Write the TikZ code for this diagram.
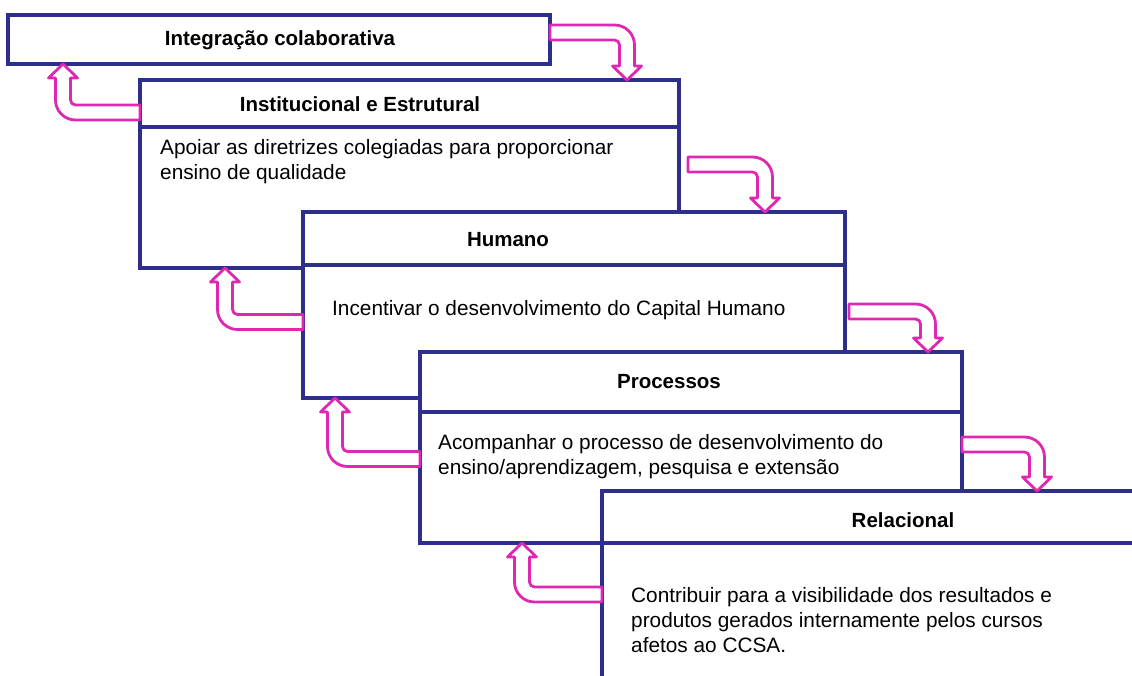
\documentclass[tikz,border=0pt]{standalone}
\usepackage{fontspec}
\setmainfont{Liberation Sans}
\usetikzlibrary{calc}

\definecolor{azulcx}{RGB}{46,46,140}
\definecolor{rosaseta}{RGB}{222,40,178}

\tikzset{
  caixa/.style={draw=azulcx,line width=3.2pt,fill=white,anchor=north west,inner sep=0pt,outer sep=0pt},
  titulo/.style={font=\fontsize{20.5}{25}\selectfont\bfseries,inner sep=0pt},
  texto/.style={font=\fontsize{20.8}{25}\selectfont,align=left,anchor=north west,inner sep=0pt},
  seta/.style={draw=rosaseta,line width=2.8pt,fill=white,line join=round}
}

\newcommand\setadir[2]{%
  \draw[seta] let \p1=(#1), \p2=(#2) in
    (\x1,\y1+7.5pt) -- (\x2-12.5pt,\y1+7.5pt)
    .. controls (\x2-1.45pt,\y1+7.5pt) and (\x2+7.5pt,\y1-1.45pt) .. (\x2+7.5pt,\y1-12.5pt)
    -- (\x2+7.5pt,\y2+14pt) -- (\x2+14.5pt,\y2+14pt) -- (\x2,\y2)
    -- (\x2-14.5pt,\y2+14pt) -- (\x2-7.5pt,\y2+14pt) -- (\x2-7.5pt,\y1-12.5pt)
    .. controls (\x2-7.5pt,\y1-9.74pt) and (\x2-9.74pt,\y1-7.5pt) .. (\x2-12.5pt,\y1-7.5pt)
    -- (\x1,\y1-7.5pt) -- cycle;}

\newcommand\setaesq[2]{%
  \draw[seta] let \p1=(#1), \p2=(#2) in
    (\x1,\y1-7.5pt) -- (\x2+12.5pt,\y1-7.5pt)
    .. controls (\x2+1.45pt,\y1-7.5pt) and (\x2-7.5pt,\y1+1.45pt) .. (\x2-7.5pt,\y1+12.5pt)
    -- (\x2-7.5pt,\y2-14pt) -- (\x2-14.5pt,\y2-14pt) -- (\x2,\y2)
    -- (\x2+14.5pt,\y2-14pt) -- (\x2+7.5pt,\y2-14pt) -- (\x2+7.5pt,\y1+12.5pt)
    .. controls (\x2+7.5pt,\y1+9.74pt) and (\x2+9.74pt,\y1+7.5pt) .. (\x2+12.5pt,\y1+7.5pt)
    -- (\x1,\y1+7.5pt) -- cycle;}

\begin{document}
\begin{tikzpicture}[x=1pt,y=-1pt]
  \useasboundingbox (0,0) rectangle (1132,675);
  \clip (0,0) rectangle (1132,675);

  \node[caixa,minimum width=542pt,minimum height=49pt] (integ) at (8,15) {};
	\node[titulo] (tinteg) at (280,40) {Integração colaborativa};

  \node[caixa,minimum width=539pt,minimum height=47pt] (instit) at (140,80) {};
  \node[caixa,minimum width=539pt,minimum height=141pt] (cinstit) at (instit.south west) {};
	\node[titulo] (tinstit) at (360,104) {Institucional e Estrutural};
	\node[texto] (xinstit) at (160,139) {Apoiar as diretrizes colegiadas para proporcionar\\ensino de qualidade};

  \node[caixa,minimum width=542pt,minimum height=53pt] (humano) at (303,212) {};
  \node[caixa,minimum width=542pt,minimum height=133pt] (chumano) at (humano.south west) {};
	\node[titulo] (thumano) at (508,240) {Humano};
	\node[texto] (xhumano) at (332,300) {Incentivar o desenvolvimento do Capital Humano};

  \node[caixa,minimum width=542pt,minimum height=60pt] (proc) at (420,352) {};
  \node[caixa,minimum width=542pt,minimum height=131pt] (cproc) at (proc.south west) {};
	\node[titulo] (tproc) at (669,382) {Processos};
	\node[texto] (xproc) at (438,434) {Acompanhar o processo de desenvolvimento do\\ensino/aprendizagem, pesquisa e extensão};

  \node[caixa,minimum width=560pt,minimum height=52pt] (rel) at (602,491) {};
  \node[caixa,minimum width=560pt,minimum height=200pt] (crel) at (rel.south west) {};
	\node[titulo] (trel) at (903,520) {Relacional};
	\node[texto] (xrel) at (631,587) {Contribuir para a visibilidade dos resultados e\\produtos gerados internamente pelos cursos\\afetos ao CCSA.};

  \coordinate (r1a) at (integ.east |- 0,32.5);
  \coordinate (r1b) at (627,0 |- instit.north);
  \coordinate (r2a) at ($(instit.east |- 0,164.5)+(9,0)$);
  \coordinate (r2b) at (765,0 |- humano.north);
  \coordinate (r3a) at ($(humano.east |- 0,311.5)+(4,0)$);
  \coordinate (r3b) at (928,0 |- proc.north);
  \coordinate (r4a) at (proc.east |- 0,444.5);
  \coordinate (r4b) at (1037,0 |- rel.north);
	\setadir{r1a}{r1b}
	\setadir{r2a}{r2b}
	\setadir{r3a}{r3b}
	\setadir{r4a}{r4b}

  \coordinate (l1a) at (instit.west |- 0,112.5);
  \coordinate (l1b) at (63,0 |- integ.south);
  \coordinate (l2a) at (humano.west |- 0,322);
  \coordinate (l2b) at (225,0 |- cinstit.south);
  \coordinate (l3a) at (proc.west |- 0,459);
  \coordinate (l3b) at (335,0 |- chumano.south);
  \coordinate (l4a) at (rel.west |- 0,594.5);
  \coordinate (l4b) at (522,0 |- cproc.south);
	\setaesq{l1a}{l1b}
	\setaesq{l2a}{l2b}
	\setaesq{l3a}{l3b}
	\setaesq{l4a}{l4b}
\end{tikzpicture}
\end{document}
